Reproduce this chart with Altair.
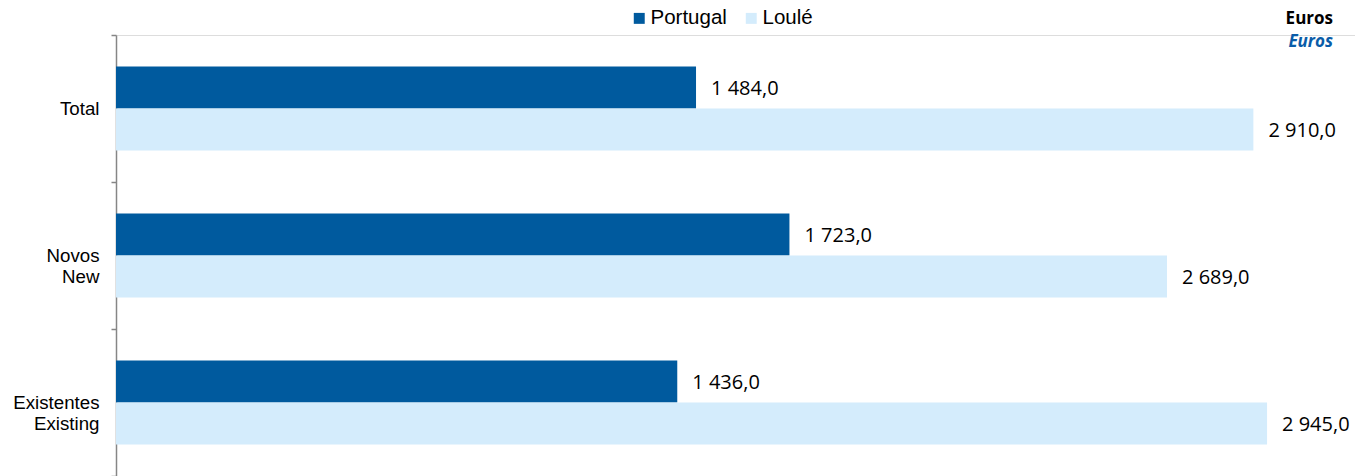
import altair as alt
import pandas as pd

categories = ["Total", "Novos|New", "Existentes|Existing"]
series = ["Portugal", "Loulé"]
portugal = [1484.0, 1723.0, 1436.0]
loule = [2910.0, 2689.0, 2945.0]
colors = ["#005a9e", "#d4ecfc"]

rows = []
for c, p, l in zip(categories, portugal, loule):
    for s, v in zip(series, [p, l]):
        rows.append({"cat": c, "series": s, "value": v,
                     "label": f"{v:,.1f}".replace(",", " ").replace(".", ",")})
df = pd.DataFrame(rows)

y_enc = alt.Y("cat:N", sort=categories, title=None,
              scale=alt.Scale(paddingInner=0, paddingOuter=0),
              axis=alt.Axis(labelExpr="split(datum.label, '|')", tickBand="extent",
                            labelFont="Liberation Sans", labelFontSize=18.7, labelColor="#000000",
                            labelLineHeight=21, labelPadding=12, tickSize=5,
                            tickColor="#868686", domainColor="#868686", domainWidth=1.5,
                            tickWidth=1.5, labelAlign="right", labelBaseline="middle"))
yoff = alt.YOffset("series:N", sort=series,
                   scale=alt.Scale(paddingInner=0, paddingOuter=0.75))
x_enc = alt.X("value:Q", scale=alt.Scale(domain=[0, 3170], nice=False), axis=None)

bars = alt.Chart(df).mark_bar().encode(
    x=x_enc, y=y_enc, yOffset=yoff,
    color=alt.Color("series:N", sort=series,
                    scale=alt.Scale(domain=series, range=colors),
                    legend=alt.Legend(title=None, orient="none", direction="horizontal",
                                      legendX=513, legendY=-27, symbolType="square",
                                      symbolSize=120, symbolStrokeWidth=0,
                                      labelFont="Liberation Sans", labelFontSize=20.5,
                                      labelColor="#000000", labelOffset=1,
                                      columnPadding=14)),
)

labels = alt.Chart(df).mark_text(align="left", baseline="middle", dx=15, dy=1,
                                 font="Open Sans", fontSize=20, color="#000000").encode(
    x=x_enc, y=alt.Y("cat:N", sort=categories), yOffset=yoff, text="label:N")

unit_df = pd.DataFrame({"t": ["Euros"]})
unit1 = alt.Chart(unit_df).mark_text(align="right", baseline="middle", font="Open Sans",
                                     fontSize=17, fontWeight="bold", color="#000000").encode(
    x=alt.value(1217), y=alt.value(-16), text="t:N")
unit2 = alt.Chart(unit_df).mark_text(align="right", baseline="middle", font="Open Sans",
                                     fontSize=17, fontWeight="bold", fontStyle="italic",
                                     color="#0a5ca8").encode(
    x=alt.value(1217), y=alt.value(7), text="t:N")

chart = alt.layer(bars, labels, unit1, unit2).properties(
    width=1239, height=441,
    autosize=alt.AutoSizeParams(type="none"),
    padding={"left": 116, "top": 35, "right": 0, "bottom": 0},
).configure_view(stroke=None).configure(background="white")

chart.save("out.html", embed_options={"renderer": "svg", "actions": False})
